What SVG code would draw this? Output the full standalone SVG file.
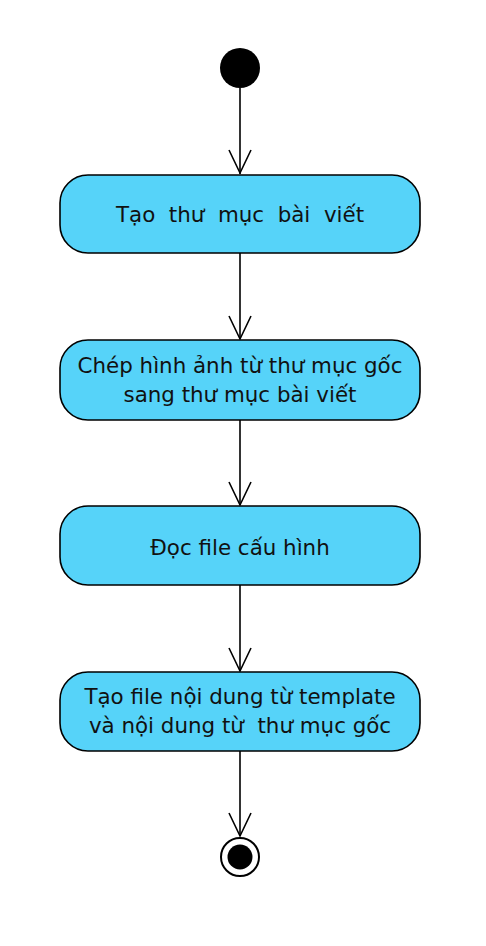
<svg xmlns="http://www.w3.org/2000/svg" width="486" height="946" viewBox="0 0 486 946">
<defs>
<style>
.node rect{fill:#56D3F9;stroke:#000;stroke-width:1.6}
.node text{font-family:"DejaVu Sans","Noto Sans",sans-serif;font-size:21.4px;fill:#111;text-anchor:middle;white-space:pre}
.conn line{stroke:#000;stroke-width:1.6}
.conn path{fill:none;stroke:#000;stroke-width:1.6}
</style>
</defs>
<rect width="486" height="946" fill="#fff"/>
<g class="conn">
<line x1="240" y1="88" x2="240" y2="174"/><path d="M229,150 L240,173 L251,150"/>
<line x1="240" y1="253" x2="240" y2="339"/><path d="M229,316 L240,339 L251,316"/>
<line x1="240" y1="420" x2="240" y2="505"/><path d="M229,482 L240,505 L251,482"/>
<line x1="240" y1="585" x2="240" y2="671"/><path d="M229,648 L240,671 L251,648"/>
<line x1="240" y1="751" x2="240" y2="836"/><path d="M229,813 L240,836 L251,813"/>
</g>
<g id="start"><circle cx="240" cy="68" r="20" fill="#000"/></g>
<g id="n1" class="node"><rect x="60" y="175" width="360" height="78" rx="28"/><text x="240" y="222">Tạo  thư  mục  bài  viết</text></g>
<g id="n2" class="node"><rect x="60" y="340" width="360" height="80" rx="28"/><text x="240" y="373">Chép hình ảnh từ thư mục gốc</text><text x="240" y="402">sang thư mục bài viết</text></g>
<g id="n3" class="node"><rect x="60" y="506" width="360" height="79" rx="28"/><text x="240" y="555">Đọc file cấu hình</text></g>
<g id="n4" class="node"><rect x="60" y="672" width="360" height="79" rx="28"/><text x="240" y="704">Tạo file nội dung từ template</text><text x="240" y="733">và nội dung từ  thư mục gốc</text></g>
<g id="end"><circle cx="240" cy="857" r="19" fill="#fff" stroke="#000" stroke-width="2"/><circle cx="240" cy="857" r="12.5" fill="#000"/></g>
</svg>
